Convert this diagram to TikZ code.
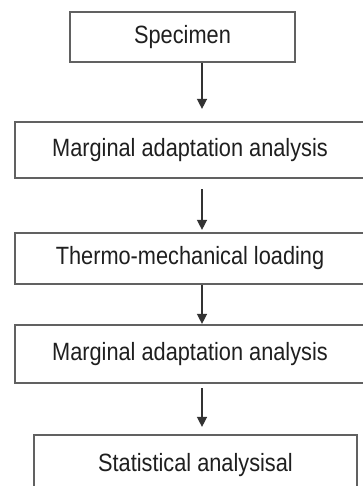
\documentclass[tikz,border=0pt]{standalone}
\usepackage{fontspec}
\setmainfont{Liberation Sans}[FakeStretch=0.87]
\usetikzlibrary{arrows.meta}
\begin{document}
\begin{tikzpicture}[x=1pt,y=1pt,
  box/.style={draw=black!62,line width=2.2pt,minimum height=#1,inner sep=0pt,text=black!88,font=\fontsize{25}{29}\selectfont},
  arr/.style={draw=black!80,line width=1.4pt,-{Triangle[length=10pt,width=10pt]}}]
\useasboundingbox (0,0) rectangle (362,-486);
\fill[white] (0,0) rectangle (362,-486);
\coordinate (ax) at (202,0);
\node[box=50pt,minimum width=225pt] (b1) at (182.5,-37) {Specimen};
\node[box=56pt,minimum width=350pt] (b2) at (190,-150) {Marginal adaptation analysis};
\node[box=51pt,minimum width=350pt] (b3) at (190,-258.5) {Thermo-mechanical loading};
\node[box=58pt,minimum width=350pt] (b4) at (190,-354) {Marginal adaptation analysis};
\node[box=60pt,minimum width=323pt] (b5) at (195.5,-465) {Statistical analysisal};
\draw[arr] (b1.south -| ax) -- ([yshift=12pt]b2.north -| ax);
\draw[arr] ([yshift=-10pt]b2.south -| ax) -- ([yshift=2pt]b3.north -| ax);
\draw[arr] (b3.south -| ax) -- (b4.north -| ax);
\draw[arr] ([yshift=-4pt]b4.south -| ax) -- ([yshift=7pt]b5.north -| ax);
\end{tikzpicture}
\end{document}
